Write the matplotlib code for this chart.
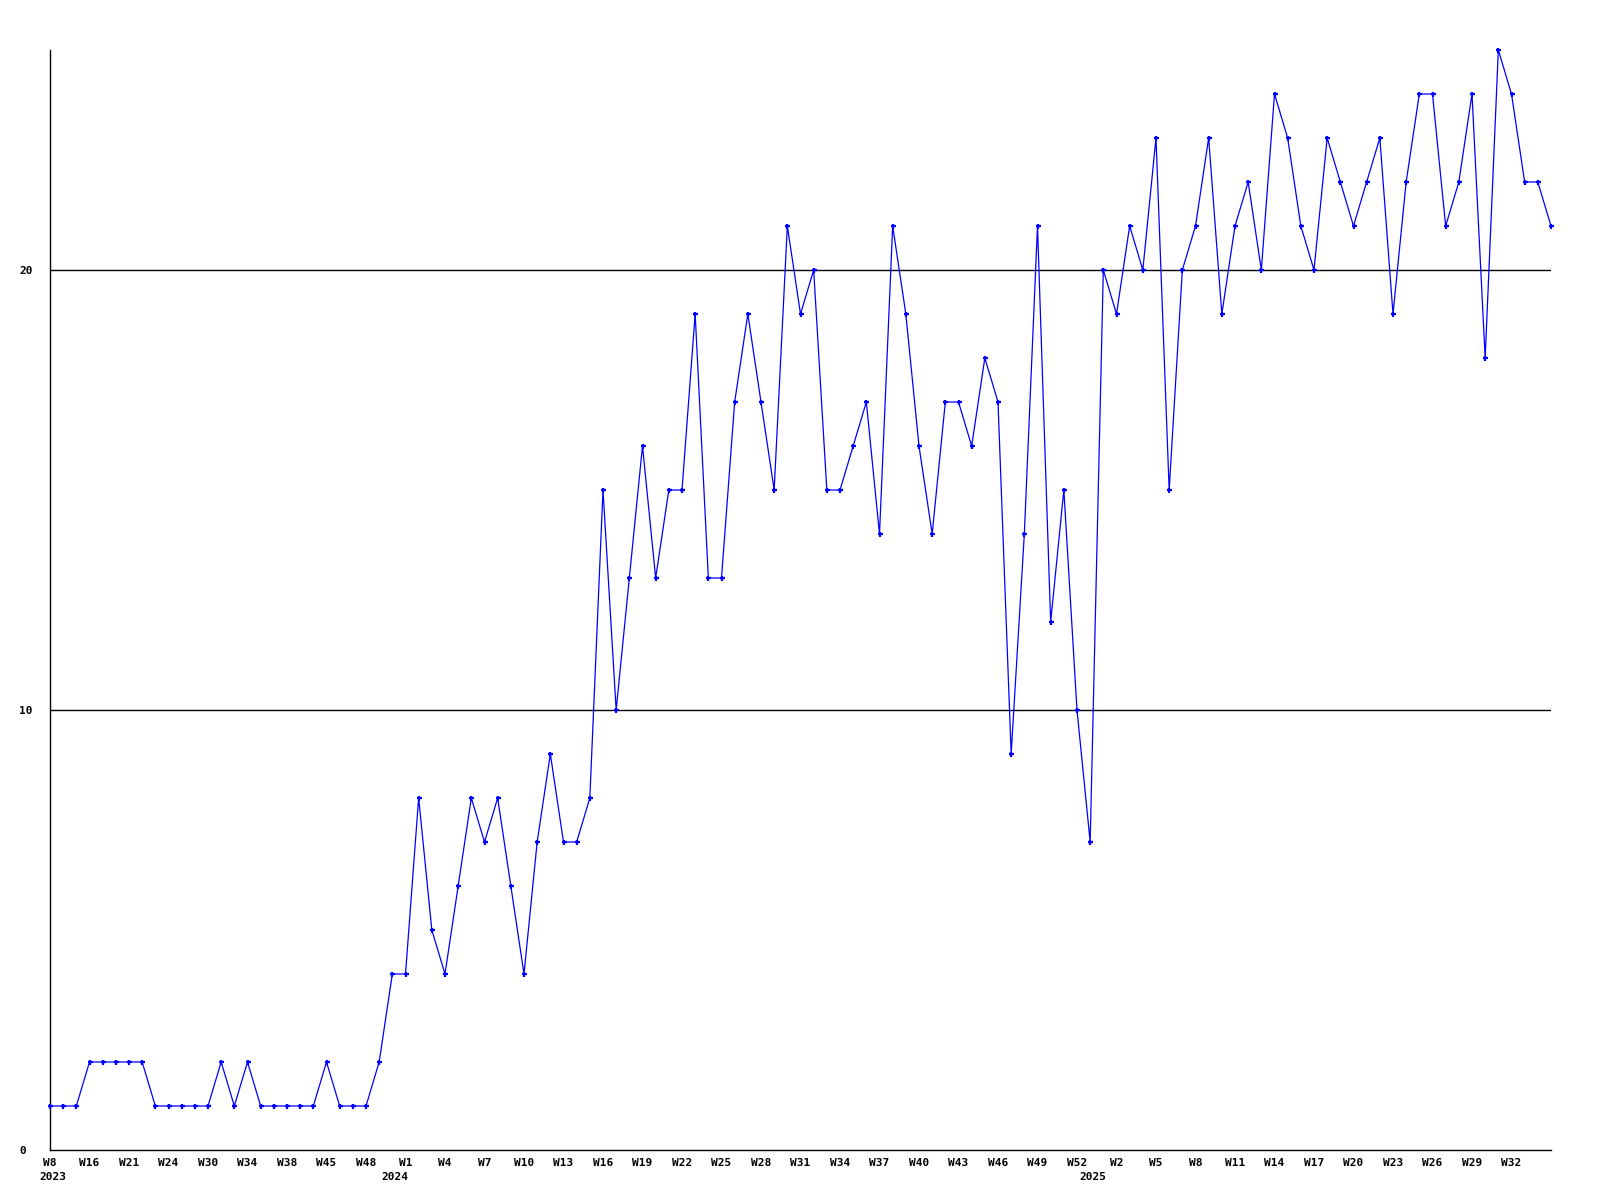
import matplotlib
matplotlib.use("Agg")
import matplotlib.pyplot as plt

# weekly counts, one value per point
values = [1, 1, 1, 2, 2, 2, 2, 2, 1, 1,
          1, 1, 1, 2, 1, 2, 1, 1, 1, 1,
          1, 2, 1, 1, 1, 2, 4, 4, 8, 5,
          4, 6, 8, 7, 8, 6, 4, 7, 9, 7,
          7, 8, 15, 10, 13, 16, 13, 15, 15, 19,
          13, 13, 17, 19, 17, 15, 21, 19, 20, 15,
          15, 16, 17, 14, 21, 19, 16, 14, 17, 17,
          16, 18, 17, 9, 14, 21, 12, 15, 10, 7,
          20, 19, 21, 20, 23, 15, 20, 21, 23, 19,
          21, 22, 20, 24, 23, 21, 20, 23, 22, 21,
          22, 23, 19, 22, 24, 24, 21, 22, 24, 18,
          25, 24, 22, 22, 21]

# a week label every 3rd point
week_labels = ["W8", "W16", "W21", "W24", "W30", "W34", "W38", "W45", "W48",
               "W1", "W4", "W7", "W10", "W13", "W16", "W19", "W22", "W25", "W28",
               "W31", "W34", "W37", "W40", "W43", "W46", "W49", "W52",
               "W2", "W5", "W8", "W11", "W14", "W17", "W20", "W23", "W26", "W29", "W32"]
years = ["2023", "2024", "2025"]
year_pos = [0, 26, 79]

x = list(range(len(values)))
W, H = 1600, 1200

fig = plt.figure(figsize=(16, 12), dpi=100)
ax = fig.add_axes([50 / W, 50 / H, 1501 / W, 1100 / H])

ax.axhline(10, color="black", lw=1.0, zorder=1)
ax.axhline(20, color="black", lw=1.0, zorder=1)
ax.plot(x, values, color="#0000ff", lw=0.9, marker="+", markersize=3.6,
        markeredgewidth=1.6, zorder=3, clip_on=False)

ax.set_xlim(0, len(values) - 1)
ax.set_ylim(0, 25)

for s in ["top", "right"]:
    ax.spines[s].set_visible(False)
for s in ["left", "bottom"]:
    ax.spines[s].set_linewidth(1.0)
    ax.spines[s].set_color("black")

fnt = dict(family="DejaVu Sans Mono", weight="bold", size=8)

ax.set_yticks([0, 10, 20])
ax.set_yticklabels(["0", "10", "20"], ha="left", **fnt)
ax.tick_params(axis="y", length=0, pad=22)

ax.set_xticks(x[::3][:len(week_labels)])
ax.set_xticklabels(week_labels, **fnt)
ax.tick_params(axis="x", length=0, pad=6)

for yr, p in zip(years, year_pos):
    ax.annotate(yr, xy=(p, 0), xycoords=("data", "axes fraction"),
                xytext=(3, -27), textcoords="offset pixels",
                ha="center", va="center", **fnt)

fig.savefig("out.png", dpi=100, facecolor="white")
